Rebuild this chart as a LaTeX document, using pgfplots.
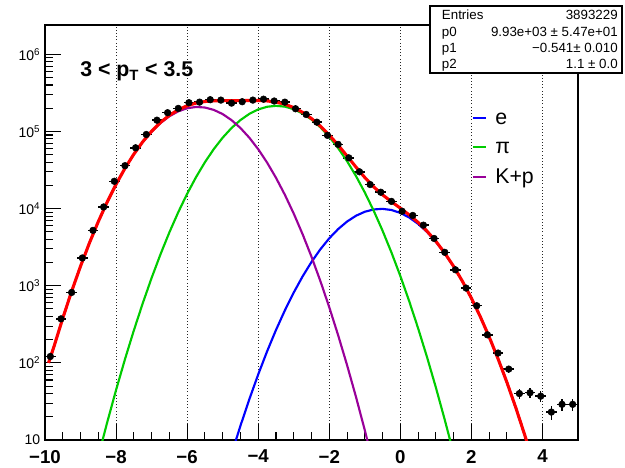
\documentclass[border=0pt]{standalone}
\usepackage{fontspec}
\setmainfont{Liberation Sans}
\usepackage{pgfplots}
\usepackage{pgfplotstable}
\pgfplotsset{compat=1.18}
\definecolor{rootred}{HTML}{FF0000}
\definecolor{rootgreen}{HTML}{00CC00}
\definecolor{rootblue}{HTML}{0000FF}
\definecolor{rootviolet}{HTML}{990099}

% measured histogram (bin centre, counts, stat. error)
\pgfplotstableread{
x y ey
-9.85 121 11
-9.55 372 19.3
-9.25 818 28.6
-8.95 2290 47.9
-8.65 5220 72.2
-8.35 10500 102
-8.05 22600 150
-7.75 36000 190
-7.45 61400 248
-7.15 91400 302
-6.85 140000 374
-6.55 175000 418
-6.25 199000 446
-5.95 236000 486
-5.65 240000 490
-5.35 258000 508
-5.05 255000 505
-4.75 233000 483
-4.45 243000 493
-4.15 255000 505
-3.85 262000 512
-3.55 248000 498
-3.25 240000 490
-2.95 197000 444
-2.65 166000 407
-2.35 132000 363
-2.05 89000 298
-1.75 68000 261
-1.45 45500 213
-1.15 30000 173
-0.85 20500 143
-0.55 16300 128
-0.25 12400 111
0.05 9230 96
0.35 8150 90
0.65 6100 78
0.95 4100 64
1.25 2710 52
1.55 1610 40
1.85 933 30.5
2.15 550 23.5
2.45 231 15.2
2.75 134 11.6
3.05 83 9.1
3.35 40 6.3
3.65 41 6.4
3.95 37 6.1
4.25 23 4.8
4.55 29 5.4
4.85 29 5.4
}\histo

% K+p component
\pgfplotstableread{
x y
-9.9 100
-9.75 161
-9.5 379
-9.25 847
-9 1789
-8.75 3578
-8.5 6776
-8.25 12150
-8 20630
-7.75 33180
-7.5 50520
-7.25 72850
-7 99420
-6.75 128500
-6.5 157300
-6.25 182300
-6 200000
-5.75 207800
-5.5 204400
-5.25 190400
-5 168000
-4.75 140200
-4.5 110900
-4.25 83040
-4 58880
-3.75 39530
-3.5 25120
-3.25 15120
-3 8615
-2.75 4650
-2.5 2376
-2.25 1149
-2 526
-1.75 228
-1.5 93.8
-1.25 36.5
-1 13.4
-0.75 4.68
}\kaon

% pion component
\pgfplotstableread{
x y
-8.75 2.10
-8.5 6.12
-8.25 16.9
-8 44.5
-7.75 111.1
-7.5 263
-7.25 591
-7 1262
-6.75 2556
-6.5 4915
-6.25 8973
-6 15540
-5.75 25550
-5.5 39870
-5.25 59080
-5 83070
-4.75 110900
-4.5 140500
-4.25 169000
-4 192900
-3.75 209000
-3.5 215000
-3.25 209900
-3 194500
-2.75 171100
-2.5 142800
-2.25 113200
-2 85170
-1.75 60830
-1.5 41240
-1.25 26530
-1 16200
-0.75 9391
-0.5 5168
-0.25 2699
0 1338
0.25 629.6
0.5 281.2
0.75 119.3
1 48.0
1.25 18.3
1.5 6.65
1.75 2.29
}\pion

% electron component
\pgfplotstableread{
x y
-5 2.68
-4.75 6.57
-4.5 15.28
-4.25 33.7
-4 70.7
-3.75 140.9
-3.5 266.5
-3.25 478.5
-3 816
-2.75 1322
-2.5 2033
-2.25 2970
-2 4120
-1.75 5427
-1.5 6789
-1.25 8066
-1 9101
-0.75 9750
-0.5 9923
-0.25 9588
0 8799
0.25 7665
0.5 6344
0.75 4986
1 3722
1.25 2638
1.5 1775
1.75 1135
2 688.9
2.25 397.2
2.5 217.4
2.75 113.0
3 55.8
3.25 26.2
3.5 11.65
3.75 4.93
4 1.98
}\elec

% total fit
\pgfplotstableread{
x y
-9.9 100
-9.75 161
-9.5 379
-9.25 847
-9 1790
-8.75 3580
-8.5 6782
-8.25 12167
-8 20675
-7.75 33291
-7.5 50783
-7.25 73441
-7 100682
-6.75 131056
-6.5 162215
-6.25 191273
-6 215540
-5.75 233350
-5.5 244270
-5.25 249480
-5 251070
-4.75 251107
-4.5 251415
-4.25 252074
-4 251851
-3.75 248671
-3.5 240387
-3.25 225499
-3 203931
-2.75 177072
-2.5 147209
-2.25 117319
-2 89816
-1.75 66485
-1.5 48123
-1.25 34633
-1 25314
-0.75 19146
-0.5 15092
-0.25 12287
0 10137
0.25 8295
0.5 6625
0.75 5105
1 3770
1.25 2656
1.5 1782
1.75 1137
2 689.6
2.25 397.4
2.5 217.5
2.75 113.0
3 55.8
3.25 26.2
3.5 11.65
3.75 4.93
4 1.98
}\total

\begin{document}
\begin{tikzpicture}[x=0.75pt,y=0.75pt]
\begin{axis}[
  at={(0,0)}, anchor=south west,
  scale only axis, width=399.75pt, height=311.25pt,
  xmin=-10, xmax=5,
  ymode=log, ymin=10, ymax=2.4e6,
  axis line style={line width=0.8pt},
  tick align=inside, tick pos=left,
  major tick length=12pt, minor tick length=6pt,
  tick style={black, line width=0.8pt},
  xtick={-10,-8,-6,-4,-2,0,2,4},
  xticklabels={−10,−8,−6,−4,−2,0,2,4},
  minor x tick num=3,
  ytick={10,100,1000,10000,100000,1000000},
  yticklabels={10,10\textsuperscript{2},10\textsuperscript{3},10\textsuperscript{4},10\textsuperscript{5},10\textsuperscript{6}},
  xticklabel style={font=\fontsize{14}{16}\selectfont\bfseries, yshift=-4pt},
  yticklabel style={font=\fontsize{10.5}{12}\selectfont},
  xmajorgrids,
  grid style={dotted, black!85, line width=0.6pt},
]
\addplot[only marks, black, mark=*, mark size=2.5pt,
  error bars/.cd, x dir=both, x fixed=0.15, y dir=both, y explicit,
  error mark=none, error bar style={line width=1.1pt}]
  table[x=x, y=y, y error=ey]{\histo};
\addplot[rootblue, line width=1.6pt] table[x=x, y=y]{\elec};
\addplot[rootgreen, line width=1.6pt] table[x=x, y=y]{\pion};
\addplot[rootviolet, line width=1.6pt] table[x=x, y=y]{\kaon};
\addplot[rootred, line width=2.3pt] table[x=x, y=y]{\total};
\end{axis}

% title
\node[anchor=base west, inner sep=0pt, font=\fontsize{16}{19}\selectfont\bfseries]
  at (35,363) {3 < p\textsubscript{T} < 3.5};

% legend
\draw[rootblue, line width=1.6pt] (428,321.7) -- (441,321.7);
\draw[rootgreen, line width=1.6pt] (428,293.3) -- (441,293.3);
\draw[rootviolet, line width=1.6pt] (428,262.7) -- (441,262.7);
\node[anchor=base west, inner sep=0pt, font=\fontsize{16}{19}\selectfont] at (450,315) {e};
\node[anchor=base west, inner sep=0pt, font=\fontsize{16}{19}\selectfont] at (450,286) {π};
\node[anchor=base west, inner sep=0pt, font=\fontsize{16}{19}\selectfont] at (450,256.5) {K+p};

% statistics box
\draw[fill=white, line width=0.8pt] (385,367) rectangle (577,434);
\begin{scope}[every node/.style={inner sep=0pt, font=\fontsize{10}{12}\selectfont}]
\node[anchor=base west] at (396.7,420) {Entries};
\node[anchor=base west] at (396.7,403.5) {p0};
\node[anchor=base west] at (396.7,387) {p1};
\node[anchor=base west] at (396.7,371) {p2};
\node[anchor=base east] at (573,420) {3893229};
\node[anchor=base east] at (573,403.5) {9.93e+03 ± 5.47e+01};
\node[anchor=base east] at (573,387) {−0.541± 0.010};
\node[anchor=base east] at (573,371) {1.1 ± 0.0};
\end{scope}

\path[use as bounding box] (-45,-24) rectangle (580,440);
\end{tikzpicture}
\end{document}
